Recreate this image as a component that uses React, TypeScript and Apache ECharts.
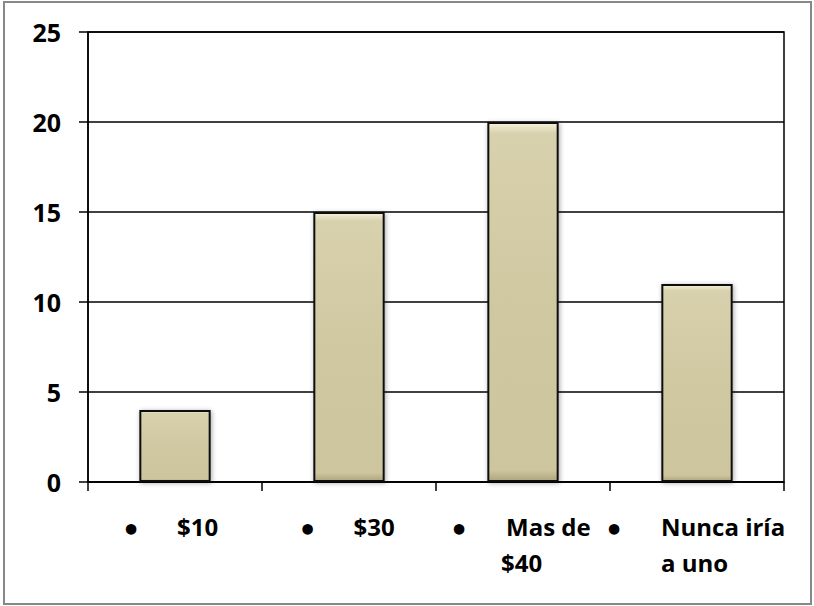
import React, { useEffect, useRef } from 'react';
import * as echarts from 'echarts';

// ---- data ----
const categories = ['$10', '$30', 'Mas de\n$40', 'Nunca iría\na uno'];
const values = [4, 15, 20, 11];
const yMin = 0;
const yMax = 25;
const yInterval = 5;

const FONT = '"Open Sans", Lato, "DejaVu Sans", sans-serif';

// label layout: offsets (px) from the category centre computed by the axis
const labelLayout = [
  { bullet: -44, lines: [2] },
  { bullet: -41.5, lines: [4.5] },
  { bullet: -64, lines: [-17, -22] },
  { bullet: -83, lines: [-36, -36] },
];

export default function App() {
  const ref = useRef<HTMLDivElement>(null);

  useEffect(() => {
    if (!ref.current) return;
    const chart = echarts.init(ref.current, undefined, { renderer: 'svg' });

    const option: any = {
      animation: false,
      backgroundColor: '#ffffff',
      grid: {
        left: 88,
        right: 30,
        top: 32,
        bottom: 124,
        show: true,
        borderColor: '#000',
        borderWidth: 1.5,
        backgroundColor: 'transparent',
      },
      xAxis: {
        type: 'category',
        data: categories,
        boundaryGap: true,
        axisLine: { show: true, lineStyle: { color: '#000', width: 1.5 } },
        axisTick: { show: true, length: 9, lineStyle: { color: '#000', width: 1.5 } },
        axisLabel: { show: false },
        splitLine: { show: false },
      },
      yAxis: {
        type: 'value',
        min: yMin,
        max: yMax,
        interval: yInterval,
        axisLine: { show: true, lineStyle: { color: '#000', width: 1.5 } },
        axisTick: { show: true, length: 9, lineStyle: { color: '#000', width: 1.5 } },
        axisLabel: {
          show: true,
          margin: 27,
          color: '#000',
          fontSize: 25,
          fontWeight: 'bold',
          fontFamily: FONT,
        },
        splitLine: { show: true, lineStyle: { color: '#000', width: 1.5 } },
      },
      series: [
        {
          type: 'bar',
          data: values,
          barWidth: '41%',
          itemStyle: {
            color: {
              type: 'linear',
              x: 0,
              y: 0,
              x2: 0,
              y2: 1,
              colorStops: [
                { offset: 0, color: '#f5f0d8' },
                { offset: 0.03, color: '#d8d1ad' },
                { offset: 0.5, color: '#d0c8a1' },
                { offset: 0.97, color: '#cdc59e' },
                { offset: 1, color: '#aea57e' },
              ],
            },
            borderColor: '#111',
            borderWidth: 2,
            shadowColor: 'rgba(0,0,0,0.35)',
            shadowBlur: 5,
            shadowOffsetX: 1,
            shadowOffsetY: 1,
          },
        },
      ],
    };

    chart.setOption(option);

    const textStyle = {
      fill: '#000',
      fontSize: 24,
      fontWeight: 'bold',
      fontFamily: FONT,
      verticalAlign: 'middle',
    };

    const lineY = [526, 562];
    const graphics: any[] = [
      {
        type: 'rect',
        shape: { x: 4, y: 2, width: 807, height: 602 },
        style: { fill: 'none', stroke: '#888', lineWidth: 2 },
        silent: true,
        z: 100,
      },
    ];

    categories.forEach((cat, i) => {
      const cx = chart.convertToPixel({ xAxisIndex: 0 }, cat) as number;
      const lay = labelLayout[i];
      graphics.push({
        type: 'text',
        x: cx + lay.bullet,
        y: lineY[0] + 4,
        style: {
          ...textStyle,
          text: '•',
          align: 'center',
          fontFamily: '"DejaVu Sans", sans-serif',
          fontSize: 30,
        },
      });
      cat.split('\n').forEach((line, j) => {
        graphics.push({
          type: 'text',
          x: cx + lay.lines[j],
          y: lineY[j],
          style: { ...textStyle, text: line, align: 'left' },
        });
      });
    });

    chart.setOption({ graphic: graphics });

    return () => {
      chart.dispose();
    };
  }, []);

  return (
    <div
      ref={ref}
      style={{ position: 'fixed', left: 0, top: 0, width: 814, height: 606, background: '#fff' }}
    />
  );
}
